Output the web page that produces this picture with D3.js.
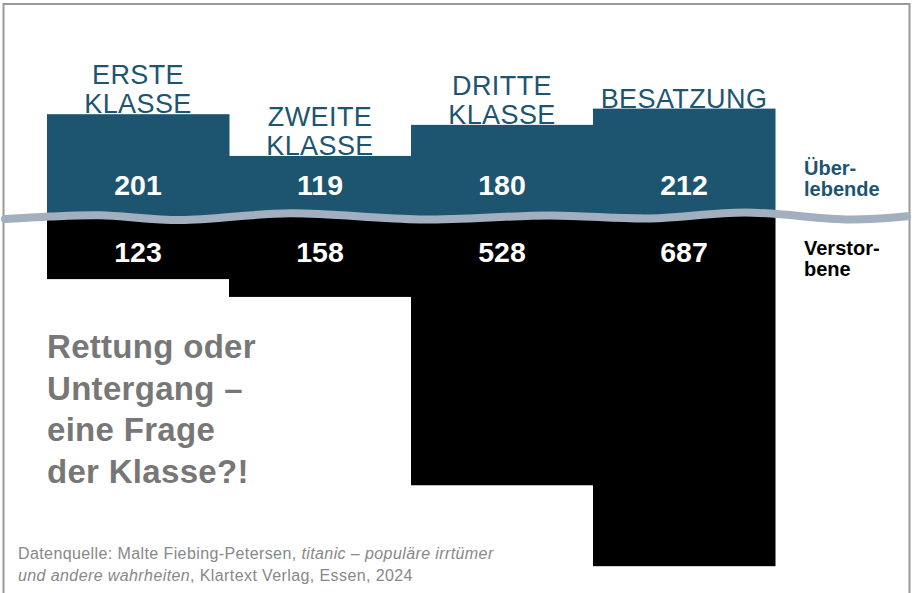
<!DOCTYPE html>
<html>
<head>
<meta charset="utf-8">
<script src="https://cdn.jsdelivr.net/npm/d3@7"></script>
<style>
  body { margin: 0; background: #fff; }
  text { font-family: "Liberation Sans", Arial, sans-serif; }
</style>
</head>
<body>
<div id="chart"></div>
<script>
// data
const categories = ["ERSTE KLASSE", "ZWEITE KLASSE", "DRITTE KLASSE", "BESATZUNG"];
const categoryLines = [["ERSTE", "KLASSE"], ["ZWEITE", "KLASSE"], ["DRITTE", "KLASSE"], ["BESATZUNG"]];
const survivors = [201, 119, 180, 212];
const deceased = [123, 158, 528, 687];
const legendSurvived = ["Über-", "lebende"];
const legendDied = ["Verstor-", "bene"];
const titleLines = ["Rettung oder", "Untergang –", "eine Frage", "der Klasse?!"];

const width = 915, height = 593;
const blue = "#1d5571", waveColor = "#a2afbf";
const base = 216.5;

const svg = d3.select("#chart")
  .append("svg")
    .attr("width", width)
    .attr("height", height);

// frame
svg.append("rect")
    .attr("x", 3.5).attr("y", 4)
    .attr("width", 906).attr("height", 620)
    .attr("fill", "none")
    .attr("stroke", "#999")
    .attr("stroke-width", 2);

const x = d3.scaleBand()
    .domain(categories)
    .range([47, 775])
    .padding(0);

// people -> pixels (same scale up and down)
const h = d3.scaleLinear()
    .domain([0, 700])
    .range([0, 356.3]);

// the wavy "water line"
const wavePts = [[5, 219], [50, 216.5], [100, 215.3], [180, 220], [290, 213.3], [420, 219.5],
  [550, 215.5], [650, 218.5], [745, 212.5], [850, 219.5], [907, 216.3]];
const waveLine = d3.line().curve(d3.curveCatmullRom.alpha(0.5));
const waveD = waveLine(wavePts);

const defs = svg.append("defs");
const first = wavePts[0], last = wavePts[wavePts.length - 1];
defs.append("clipPath").attr("id", "above")
  .append("path")
    .attr("d", waveD + `L${width},${last[1]}L${width},0L0,0L0,${first[1]}Z`);
defs.append("clipPath").attr("id", "below")
  .append("path")
    .attr("d", waveD + `L${width},${last[1]}L${width},${height}L0,${height}L0,${first[1]}Z`);

// category labels (behind bars)
categoryLines.forEach((lines, i) => {
  const cx = x(categories[i]) + x.bandwidth() / 2;
  const top = base - h(survivors[i]);
  const t = svg.append("text")
      .attr("text-anchor", "middle")
      .attr("fill", blue)
      .style("font-size", "27px")
      .style("letter-spacing", "0.4px");
  lines.forEach((ln, j) => {
    t.append("tspan")
      .attr("x", cx)
      .attr("y", top - 1 - (lines.length - 1 - j) * 29)
      .text(ln);
  });
});

// survivors
svg.append("g").attr("clip-path", "url(#above)")
  .selectAll("rect")
  .data(survivors)
  .join("rect")
    .attr("x", (d, i) => x(categories[i]))
    .attr("y", d => base - h(d))
    .attr("width", x.bandwidth() + 0.5)
    .attr("height", d => h(d) + 12)
    .attr("fill", blue);

// deceased
svg.append("g").attr("clip-path", "url(#below)")
  .selectAll("rect")
  .data(deceased)
  .join("rect")
    .attr("x", (d, i) => x(categories[i]))
    .attr("y", base - 12)
    .attr("width", x.bandwidth() + 0.5)
    .attr("height", d => h(d) + 12)
    .attr("fill", "#000");

svg.append("path")
    .attr("d", waveD)
    .attr("fill", "none")
    .attr("stroke", waveColor)
    .attr("stroke-width", 8)
    .attr("stroke-linecap", "round");

// value labels
svg.selectAll(".vs")
  .data(survivors)
  .join("text")
    .attr("x", (d, i) => x(categories[i]) + x.bandwidth() / 2)
    .attr("y", base - 21.5)
    .attr("text-anchor", "middle")
    .attr("fill", "#fff")
    .style("font-size", "28.5px")
    .style("font-weight", "bold")
    .text(d => d);

svg.selectAll(".vd")
  .data(deceased)
  .join("text")
    .attr("x", (d, i) => x(categories[i]) + x.bandwidth() / 2)
    .attr("y", base + 45.5)
    .attr("text-anchor", "middle")
    .attr("fill", "#fff")
    .style("font-size", "28.5px")
    .style("font-weight", "bold")
    .text(d => d);

// legend
function block(lines, x0, y0, lh, size, color, weight) {
  const t = svg.append("text")
      .attr("fill", color)
      .style("font-size", size + "px")
      .style("font-weight", weight);
  lines.forEach((ln, j) => {
    t.append("tspan").attr("x", x0).attr("y", y0 + j * lh).text(ln);
  });
  return t;
}
block(legendSurvived, 804, 175, 20.5, 20, blue, "bold");
block(legendDied, 804, 255, 21, 20, "#000", "bold");

// title
block(titleLines, 47, 358, 41.5, 33, "#777", "bold")
    .style("letter-spacing", "0.3px");

// source
const src = svg.append("text")
    .attr("fill", "#888")
    .style("font-size", "16px")
    .style("letter-spacing", "0.4px");
const l1 = src.append("tspan").attr("x", 18).attr("y", 559);
l1.append("tspan").text("Datenquelle: Malte Fiebing-Petersen, ");
l1.append("tspan").style("font-style", "italic").text("titanic – populäre irrtümer");
src.append("tspan").attr("x", 18).attr("y", 581)
    .style("font-style", "italic").text("und andere wahrheiten");
src.append("tspan").text(", Klartext Verlag, Essen, 2024");
</script>
</body>
</html>
